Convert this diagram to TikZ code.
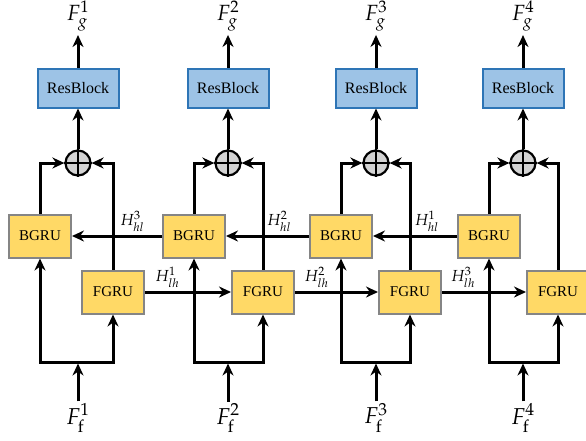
\documentclass[tikz,border=0pt]{standalone}
\usepackage{mathpazo}
\usepackage{fontspec}
\setmainfont{Liberation Serif}
\usetikzlibrary{arrows.meta}

\definecolor{gruyellow}{HTML}{FFD966}
\definecolor{grugray}{HTML}{858585}
\definecolor{resblue}{HTML}{9DC3E6}
\definecolor{resborder}{HTML}{2E75B6}
\definecolor{sumgray}{HTML}{D4D4D4}

\begin{document}
\begin{tikzpicture}[x=1pt,y=-1pt,
  gru/.style={draw=grugray, line width=2pt, fill=gruyellow, minimum width=62pt,
    minimum height=43pt, inner sep=0pt, font=\fontsize{15}{18}\selectfont},
  res/.style={draw=resborder, line width=2pt, fill=resblue, minimum width=81pt,
    minimum height=39pt, inner sep=0pt, font=\fontsize{16}{19}\selectfont},
  sumnode/.style={circle, draw, line width=2.2pt, fill=sumgray, minimum size=25pt, inner sep=0pt},
  flow/.style={line width=3pt, -{Stealth[length=12pt,width=11pt]}},
  outlbl/.style={inner sep=2pt, font=\fontsize{22}{26}\selectfont},
  inlbl/.style={inner sep=2pt, font=\fontsize{23}{27}\selectfont},
  hlbl/.style={above, inner sep=3pt, font=\fontsize{16}{18}\selectfont},
]
\useasboundingbox (0,0) rectangle (586,440);

% per-column x positions: sum/ResBlock, BGRU, FGRU
\foreach \i/\xs/\xb/\xf in {1/78/40/113, 2/228/194/263, 3/376/341/410, 4/523/489/558}{
  \node[res] (r\i) at (\xs,88) {ResBlock};
  \node[sumnode] (s\i) at (\xs,163) {};
  \draw[line width=2.2pt] (s\i.north) -- (s\i.south) (s\i.west) -- (s\i.east);
  \node[gru] (b\i) at (\xb,236) {BGRU};
  \node[gru] (f\i) at (\xf,292) {FGRU};
  \node[outlbl] (fg\i) at (\xs,16) {$F_g^{\i}$};
  \node[inlbl] (ff\i) at (\xs,418) {$F_{\mathrm{f}}^{\i}$};
  \coordinate (sp\i) at (\xs,362);
}

\foreach \i in {1,2,3,4}{
  % merge of both directions
  \draw[flow] (b\i.north) |- (s\i);
  \draw[flow] (f\i.north) |- (s\i);
  \draw[flow] (s\i) -- (r\i);
  \draw[flow, shorten >=2pt] (r\i) -- (fg\i);
  % input fan-out
  \draw[flow, shorten >=1.5pt] (ff\i) -- (sp\i);
  \draw[flow] (sp\i) -| (b\i);
  \draw[flow] (sp\i) -| (f\i);
}

% backward hidden states
\draw[flow] (b2) -- node[hlbl, pos=0.33] {$H_{hl}^{3}$} (b1);
\draw[flow] (b3) -- node[hlbl, pos=0.36] {$H_{hl}^{2}$} (b2);
\draw[flow] (b4) -- node[hlbl, pos=0.36] {$H_{hl}^{1}$} (b3);
% forward hidden states
\draw[flow] (f1) -- node[hlbl, pos=0.26] {$H_{lh}^{1}$} (f2);
\draw[flow] (f2) -- node[hlbl, pos=0.26] {$H_{lh}^{2}$} (f3);
\draw[flow] (f3) -- node[hlbl, pos=0.25] {$H_{lh}^{3}$} (f4);
\end{tikzpicture}
\end{document}
